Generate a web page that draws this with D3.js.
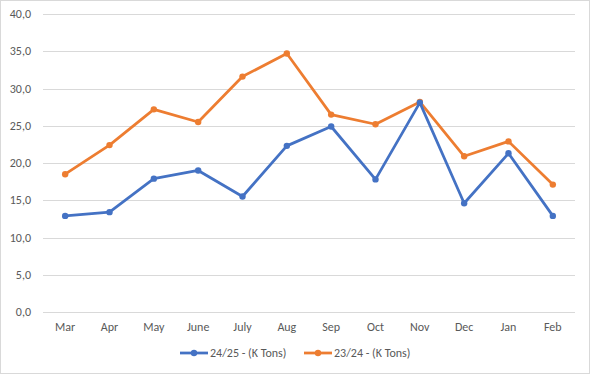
<!DOCTYPE html>
<html>
<head>
<meta charset="utf-8">
<script src="https://cdn.jsdelivr.net/npm/d3@7"></script>
<style>
  body { margin: 0; background: #fff; }
  svg text { font-family: Carlito, "Open Sans", "Liberation Sans", sans-serif; fill: #595959; }
</style>
</head>
<body>
<div id="chart"></div>
<script>
var months = ["Mar", "Apr", "May", "June", "July", "Aug", "Sep", "Oct", "Nov", "Dec", "Jan", "Feb"];
var season2425 = [12.9, 13.4, 17.9, 19.0, 15.5, 22.3, 24.9, 17.8, 28.1, 14.6, 21.3, 12.9];
var season2324 = [18.5, 22.4, 27.2, 25.5, 31.6, 34.7, 26.5, 25.2, 28.2, 20.9, 22.9, 17.1];
var yTicks = [0, 5, 10, 15, 20, 25, 30, 35, 40];
var seriesNames = ["24/25 - (K Tons)", "23/24 - (K Tons)"];
var seriesColors = ["#4472C4", "#ED7D31"];

var width = 590;
var height = 374;

var svg = d3.select("#chart")
    .append("svg")
    .attr("width", width)
    .attr("height", height);

// outer border
svg.append("rect")
    .attr("x", 0.5).attr("y", 0.5)
    .attr("width", width - 1).attr("height", height - 1)
    .attr("fill", "#fff")
    .attr("stroke", "#d9d9d9");

var x = d3.scalePoint()
    .domain(months)
    .range([43, 575])
    .padding(0.5);

var y = d3.scaleLinear()
    .domain([0, 40])
    .range([312, 14]);

// gridlines
svg.append("g")
    .selectAll("line")
    .data(yTicks)
    .enter()
    .append("line")
    .attr("x1", 43).attr("x2", 575)
    .attr("y1", function (d) { return Math.round(y(d)) + 0.5; })
    .attr("y2", function (d) { return Math.round(y(d)) + 0.5; })
    .attr("stroke", "#d9d9d9")
    .attr("stroke-width", 1);

// y labels
svg.append("g")
    .selectAll("text")
    .data(yTicks)
    .enter()
    .append("text")
    .attr("x", 31)
    .attr("y", function (d) { return y(d) + 4; })
    .attr("text-anchor", "end")
    .attr("font-size", "12px")
    .text(function (d) { return d.toFixed(1).replace(".", ","); });

// x labels
svg.append("g")
    .selectAll("text")
    .data(months)
    .enter()
    .append("text")
    .attr("x", function (d) { return x(d); })
    .attr("y", 331)
    .attr("text-anchor", "middle")
    .attr("font-size", "12px")
    .text(function (d) { return d; });

var line = d3.line()
    .x(function (d, i) { return x(months[i]); })
    .y(function (d) { return y(d); });

[season2324, season2425].forEach(function (values, k) {
    var idx = k === 0 ? 1 : 0;
    var g = svg.append("g");
    g.append("path")
        .attr("d", line(values))
        .attr("fill", "none")
        .attr("stroke", seriesColors[idx])
        .attr("stroke-width", 2.75)
        .attr("stroke-linejoin", "round")
        .attr("stroke-linecap", "round");
    g.selectAll("circle")
        .data(values)
        .enter()
        .append("circle")
        .attr("cx", function (d, i) { return x(months[i]); })
        .attr("cy", function (d) { return y(d); })
        .attr("r", 3.2)
        .attr("fill", seriesColors[idx]);
});

// legend
var legendX = [180, 304];
seriesNames.forEach(function (name, i) {
    var lg = svg.append("g").attr("transform", "translate(" + legendX[i] + "," + 353 + ")");
    lg.append("line")
        .attr("x1", 0).attr("x2", 28)
        .attr("y1", 0).attr("y2", 0)
        .attr("stroke", seriesColors[i])
        .attr("stroke-width", 2.75);
    lg.append("circle")
        .attr("cx", 14).attr("cy", 0).attr("r", 3.2)
        .attr("fill", seriesColors[i]);
    lg.append("text")
        .attr("x", 30).attr("y", 4)
        .attr("font-size", "12px")
        .text(name);
});
</script>
</body>
</html>
